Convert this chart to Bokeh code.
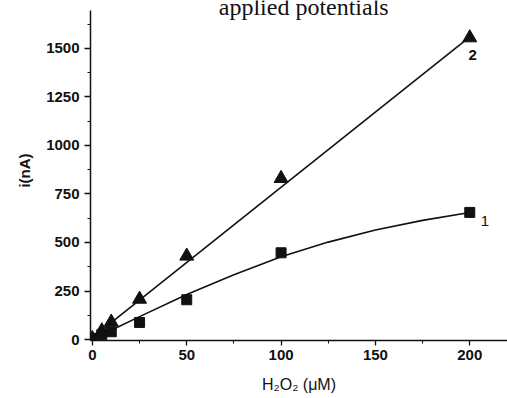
from bokeh.plotting import figure
from bokeh.models import Range1d, Label, SingleIntervalTicker
from bokeh.embed import file_html
from bokeh.resources import INLINE

# data
conc = [0, 5, 10, 25, 50, 100, 200]
i_tri = [5, 45, 90, 208, 430, 830, 1555]     # series 2 (triangles)
i_sq = [5, 25, 40, 88, 205, 447, 655]        # series 1 (squares)

fit2_x = [0, 200]
fit2_y = [10, 1560]
fit1_x = [5, 10, 25, 50, 75, 100, 125, 150, 175, 200]
fit1_y = [28, 48, 118, 232, 334, 426, 502, 564, 614, 655]

title_text = "applied potentials"
x_label = "H₂O₂ (μM)"
y_label = "i(nA)"

ink = "#111111"

p = figure(width=507, height=398, output_backend="svg", toolbar_location=None,
           x_range=Range1d(-1, 220), y_range=Range1d(-5, 1747),
           min_border_left=90, min_border_right=0, min_border_top=0,
           min_border_bottom=58)
p.outline_line_color = None
p.xgrid.visible = False
p.ygrid.visible = False
p.background_fill_color = "white"
p.border_fill_color = "white"

p.line(fit2_x, fit2_y, line_color=ink, line_width=1.6)
p.line(fit1_x, fit1_y, line_color=ink, line_width=1.6)
p.scatter(conc, i_tri, marker="triangle", size=14, fill_color=ink, line_color=ink)
p.scatter(conc, i_sq, marker="square", size=10, fill_color=ink, line_color=ink)

for ax, ticker in ((p.xaxis[0], SingleIntervalTicker(interval=50, num_minor_ticks=2)),
                   (p.yaxis[0], SingleIntervalTicker(interval=250, num_minor_ticks=2))):
    ax.ticker = ticker
    ax.axis_line_color = ink
    ax.axis_line_width = 1.5
    ax.major_tick_line_color = ink
    ax.minor_tick_line_color = ink
    ax.major_tick_line_width = 1.3
    ax.minor_tick_line_width = 1.0
    ax.major_tick_in = 0
    ax.major_tick_out = 6
    ax.minor_tick_in = 0
    ax.minor_tick_out = 3
    ax.major_label_text_font = "Liberation Sans"
    ax.major_label_text_font_style = "bold"
    ax.major_label_text_font_size = "15px"
    ax.major_label_text_color = ink
    ax.axis_label_text_color = ink
    ax.axis_label_text_font = "Liberation Sans"

p.xaxis.major_tick_out = 5
p.yaxis.bounds = (-5, 1695)
p.xaxis.major_label_standoff = 4
p.yaxis.major_label_standoff = 5
p.xaxis.axis_label = x_label
p.xaxis.axis_label_text_font_style = "normal"
p.xaxis.axis_label_text_font_size = "16px"
p.xaxis.axis_label_standoff = 13
p.yaxis.axis_label = y_label
p.yaxis.axis_label_text_font_style = "bold"
p.yaxis.axis_label_text_font_size = "15px"
p.yaxis.axis_label_standoff = 10

p.add_layout(Label(x=112, y=1716, text=title_text, text_font="Liberation Serif",
                   text_font_size="24px", text_color=ink, text_align="center",
                   text_baseline="alphabetic"))
p.add_layout(Label(x=201.5, y=1464, text="2", text_font="Liberation Sans",
                   text_font_style="bold", text_font_size="15px", text_color=ink,
                   text_align="center", text_baseline="middle"))
p.add_layout(Label(x=208, y=613, text="1", text_font="Liberation Sans",
                   text_font_size="15px", text_color=ink,
                   text_align="center", text_baseline="middle"))

open("out.html", "w").write(file_html(p, INLINE))
